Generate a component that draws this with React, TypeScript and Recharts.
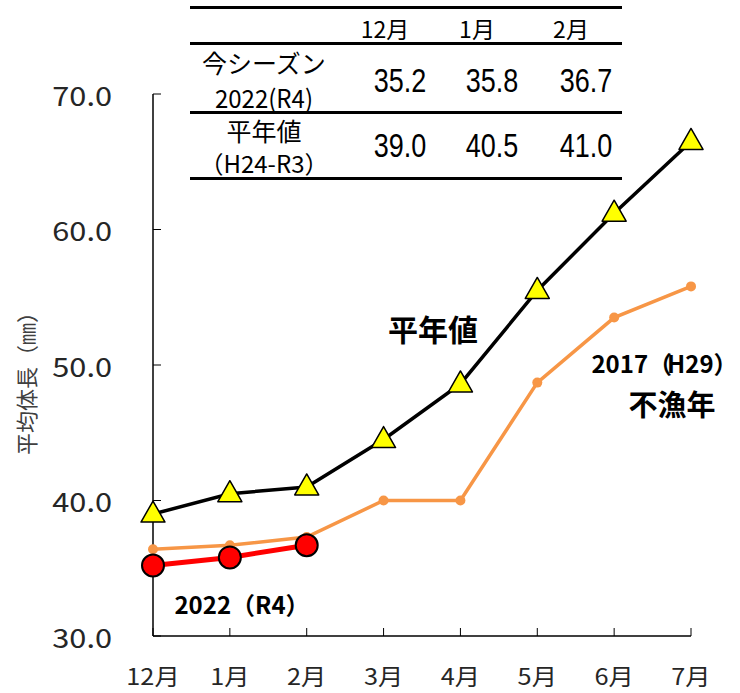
import React from "react";
import { LineChart, Line, XAxis, YAxis } from "recharts";

// months on the x axis
const months = ["12月", "1月", "2月", "3月", "4月", "5月", "6月", "7月"];
// 平年値 (H24-R3)
const normalValues = [39.0, 40.5, 41.0, 44.5, 48.6, 55.5, 61.2, 66.5];
// 2017 (H29) 不漁年
const poorYearValues = [36.4, 36.7, 37.3, 40.0, 40.0, 48.7, 53.5, 55.8];
// 2022 (R4) this season
const seasonValues: (number | null)[] = [35.2, 35.8, 36.7, null, null, null, null, null];
const yTicks = [30, 40, 50, 60, 70];

// table at the top
const tableMonths = ["12月", "1月", "2月"];
const tableColX = [385, 477, 571];

const data = months.map((m, i) => ({
  month: m,
  normal: normalValues[i],
  poor: poorYearValues[i],
  season: seasonValues[i],
}));

const jp = '"Noto Sans CJK JP", "Noto Sans", sans-serif';
const num = '"Liberation Sans", Arial, sans-serif';

function TriangleDot(props: any) {
  const { cx, cy, index } = props;
  if (cx == null || cy == null) return <g key={`t-${index}`} />;
  return (
    <polygon
      key={`t-${index}`}
      points={`${cx},${cy - 13} ${cx - 12},${cy + 8} ${cx + 12},${cy + 8}`}
      fill="#ffff00"
      stroke="#000"
      strokeWidth={1.5}
      strokeLinejoin="round"
    />
  );
}

function YTick(props: any) {
  const { x, y, payload } = props;
  return (
    <text
      transform={`translate(${x},${y}) scale(1.28,1.12)`}
      textAnchor="end"
      dominantBaseline="central"
      fontSize={24}
      style={{ fontFamily: jp }}
      fill="#262626"
    >
      {Number(payload.value).toFixed(1)}
    </text>
  );
}

function XTick(props: any) {
  const { x, y, payload } = props;
  return (
    <text
      transform={`translate(${x},${y}) scale(1.15,1.05)`}
      textAnchor="middle"
      dominantBaseline="central"
      fontSize={22}
      style={{ fontFamily: jp }}
      fill="#262626"
    >
      {payload.value}
    </text>
  );
}

function Centered({ x, y, size, bold, font, sy, children }: any) {
  return (
    <div
      style={{
        position: "absolute",
        left: x,
        top: y,
        transform: `translate(-50%, -50%) scaleY(${sy ?? 1})`,
        fontSize: size,
        fontWeight: bold ? 700 : 400,
        fontFamily: font,
        color: "#000",
        whiteSpace: "nowrap",
        lineHeight: 1,
      }}
    >
      {children}
    </div>
  );
}

function Rule({ y, thick }: { y: number; thick: number }) {
  return (
    <div
      style={{
        position: "absolute",
        left: 190,
        top: y - thick / 2,
        width: 432,
        height: thick,
        background: "#000",
      }}
    />
  );
}

export default function App() {
  return (
    <div
      style={{
        position: "absolute",
        left: 0,
        top: 0,
        width: 740,
        height: 693,
        background: "#fff",
        overflow: "hidden",
      }}
    >
      <LineChart
        width={740}
        height={693}
        data={data}
        margin={{ top: 94, right: 49, bottom: 7, left: 93 }}
      >
        <XAxis
          dataKey="month"
          height={50}
          axisLine={{ stroke: "#000", strokeWidth: 1.5 }}
          tickLine={{ stroke: "#000" }}
          tickSize={-8}
          tickMargin={47}
          tick={XTick}
        />
        <YAxis
          width={60}
          domain={[30, 70]}
          ticks={yTicks}
          interval={0}
          axisLine={{ stroke: "#000", strokeWidth: 1.5 }}
          tickLine={{ stroke: "#000" }}
          tickSize={-8}
          tickMargin={49}
          tick={YTick}
        />
        <Line
          dataKey="poor"
          stroke="#f79646"
          strokeWidth={3.5}
          dot={{ r: 5, fill: "#f79646", stroke: "#f79646", strokeWidth: 0 }}
          activeDot={false}
          isAnimationActive={false}
        />
        <Line
          dataKey="normal"
          stroke="#000"
          strokeWidth={3.5}
          dot={TriangleDot}
          activeDot={false}
          isAnimationActive={false}
        />
        <Line
          dataKey="season"
          stroke="#ff0000"
          strokeWidth={5}
          dot={{ r: 11, fill: "#ff0000", stroke: "#000", strokeWidth: 2 }}
          activeDot={false}
          isAnimationActive={false}
        />
      </LineChart>

      {/* y axis title */}
      <div
        style={{
          position: "absolute",
          left: 25,
          top: 378,
          transform: "translate(-50%, -50%) rotate(-90deg)",
          fontSize: 22,
          fontFamily: jp,
          color: "#404040",
          whiteSpace: "nowrap",
          lineHeight: 1,
        }}
      >
        平均体長（㎜）
      </div>

      {/* table */}
      <Rule y={7} thick={3} />
      <Rule y={43} thick={3} />
      <Rule y={112} thick={3} />
      <Rule y={178} thick={3} />
      {tableMonths.map((m, i) => (
        <Centered key={m} x={tableColX[i]} y={28} size={23} font={jp}>
          {m}
        </Centered>
      ))}
      <Centered x={264} y={62} size={25} font={jp}>今シーズン</Centered>
      <Centered x={264} y={97} size={24} font={jp} sy={1.05}>2022(R4)</Centered>
      <Centered x={264} y={130} size={25} font={jp}>平年値</Centered>
      <Centered x={264} y={163} size={24} font={jp}>（H24-R3）</Centered>
      {tableMonths.map((m, i) => (
        <Centered key={`s-${m}`} x={tableColX[i] + 15} y={82} size={27} sy={1.2} font={num}>
          {(seasonValues[i] as number).toFixed(1)}
        </Centered>
      ))}
      {tableMonths.map((m, i) => (
        <Centered key={`n-${m}`} x={tableColX[i] + 15} y={147} size={27} sy={1.2} font={num}>
          {normalValues[i].toFixed(1)}
        </Centered>
      ))}

      {/* annotations */}
      <Centered x={661} y={363} size={24} bold font={jp}>
        2017<span style={{ letterSpacing: -5 }}>（</span>H29<span style={{ marginRight: -7 }}>）</span>
      </Centered>
      <Centered x={433} y={328} size={30} bold font={jp}>平年値</Centered>
      <Centered x={672} y={403} size={29} bold font={jp}>不漁年</Centered>
      <Centered x={242} y={604} size={24} bold font={jp}>2022（R4）</Centered>
    </div>
  );
}
